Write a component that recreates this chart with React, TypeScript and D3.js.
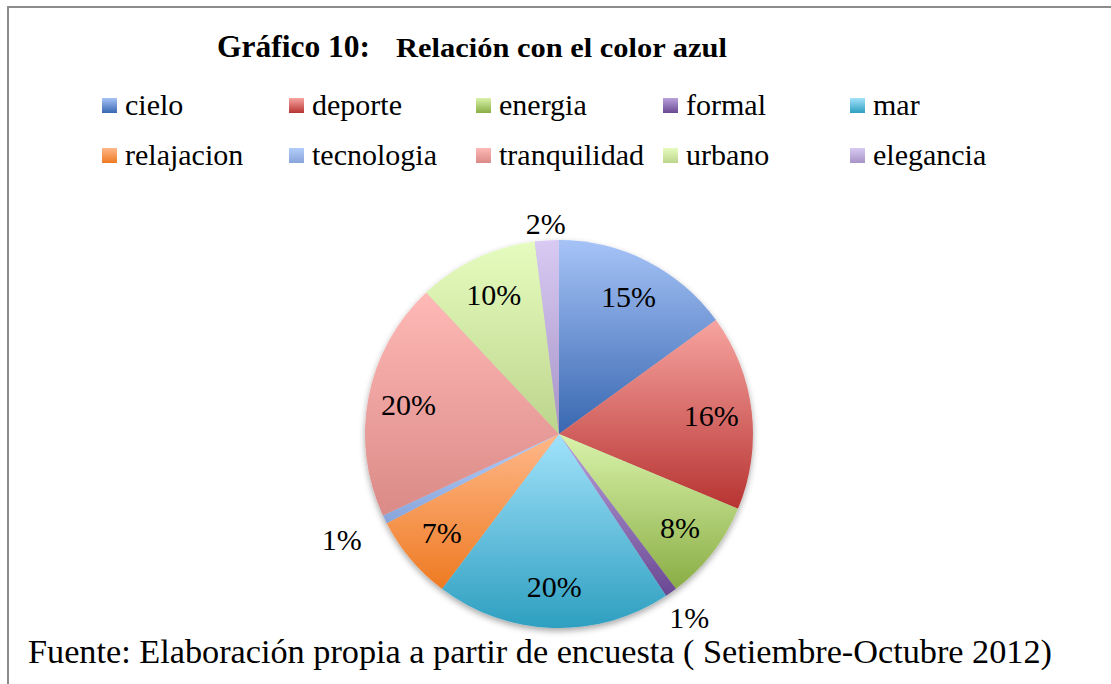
import React, { useEffect, useRef } from "react";
import * as d3 from "d3";

// ---------- Data ----------
const categories = [
  "cielo",
  "deporte",
  "energia",
  "formal",
  "mar",
  "relajacion",
  "tecnologia",
  "tranquilidad",
  "urbano",
  "elegancia",
];
// percent share
const values = [15.0, 16.3, 8.4, 1.0, 19.6, 7.1, 0.7, 19.9, 10.0, 2.0];

// gradient top / bottom per slice (Office style fills)
const colorsTop = [
  "#a6c3f7",
  "#f7a4a0",
  "#d9f3ab",
  "#b9a2dc",
  "#a2e2fb",
  "#ffb889",
  "#b3cdfa",
  "#ffb9b6",
  "#e6fcbf",
  "#d8caf3",
];
const colorsBottom = [
  "#3867b0",
  "#b73432",
  "#8aad44",
  "#6a4892",
  "#2e9fc0",
  "#ee7a22",
  "#88a5da",
  "#da8a87",
  "#bcd58c",
  "#a793c6",
];

const title1 = "Gráfico 10:";
const title2 = "Relación con el color azul";
const footer = "Fuente: Elaboración propia a partir de encuesta ( Setiembre-Octubre 2012)";

const W = 1111;
const H = 684;
const FONT = "'Liberation Serif', 'Times New Roman', serif";

interface Slice {
  name: string;
  value: number;
  i: number;
}

const App: React.FC = () => {
  const svgRef = useRef<SVGSVGElement | null>(null);

  useEffect(() => {
    const svg = d3.select(svgRef.current);
    svg.selectAll("*").remove();

    const defs = svg.append("defs");
    categories.forEach((_, i) => {
      const g = defs
        .append("linearGradient")
        .attr("id", `grad${i}`)
        .attr("x1", 0)
        .attr("y1", 0)
        .attr("x2", 0)
        .attr("y2", 1);
      g.append("stop").attr("offset", "0%").attr("stop-color", colorsTop[i]);
      g.append("stop").attr("offset", "100%").attr("stop-color", colorsBottom[i]);
    });

    const shadow = defs
      .append("filter")
      .attr("id", "pieShadow")
      .attr("x", "-10%")
      .attr("y", "-10%")
      .attr("width", "120%")
      .attr("height", "120%");
    shadow
      .append("feDropShadow")
      .attr("dx", 0)
      .attr("dy", 3)
      .attr("stdDeviation", 3)
      .attr("flood-color", "#000")
      .attr("flood-opacity", 0.35);

    // background + frame
    svg.append("rect").attr("width", W).attr("height", H).attr("fill", "#fff");
    svg
      .append("path")
      .attr("d", `M8,${H} L8,7 L${W},7`)
      .attr("fill", "none")
      .attr("stroke", "#8c8c8c")
      .attr("stroke-width", 2);

    // ---------- Title ----------
    svg
      .append("text")
      .attr("x", 217)
      .attr("y", 57)
      .attr("font-family", FONT)
      .attr("font-weight", "bold")
      .attr("font-size", 32)
      .attr("textLength", 153)
      .attr("lengthAdjust", "spacingAndGlyphs")
      .text(title1);
    svg
      .append("text")
      .attr("x", 396)
      .attr("y", 57)
      .attr("font-family", FONT)
      .attr("font-weight", "bold")
      .attr("font-size", 28)
      .attr("textLength", 331)
      .attr("lengthAdjust", "spacingAndGlyphs")
      .text(title2);

    // ---------- Legend ----------
    const legendX = d3
      .scalePoint<number>()
      .domain(d3.range(5))
      .range([102, 850]);
    const legendY = d3.scalePoint<number>().domain([0, 1]).range([115, 165]);

    const legend = svg
      .append("g")
      .selectAll("g")
      .data(categories)
      .enter()
      .append("g")
      .attr(
        "transform",
        (_, i) => `translate(${legendX(i % 5)},${legendY(Math.floor(i / 5))})`
      );
    legend
      .append("rect")
      .attr("x", 0)
      .attr("y", -17)
      .attr("width", 15)
      .attr("height", 15)
      .attr("fill", (_, i) => `url(#grad${i})`);
    legend
      .append("text")
      .attr("x", 23)
      .attr("y", 0)
      .attr("font-family", FONT)
      .attr("font-size", 30)
      .attr("fill", "#000")
      .text((d) => d);

    // ---------- Pie ----------
    const cx = 559;
    const cy = 434;
    const R = 194;
    const total = d3.sum(values);

    const data: Slice[] = categories.map((name, i) => ({
      name,
      value: values[i],
      i,
    }));

    const pie = d3
      .pie<Slice>()
      .sort(null)
      .value((d) => d.value);
    const arcs = pie(data);

    const arc = d3.arc<d3.PieArcDatum<Slice>>().innerRadius(0).outerRadius(R);
    const labelArc = d3
      .arc<d3.PieArcDatum<Slice>>()
      .innerRadius(R * 0.79)
      .outerRadius(R * 0.79);

    const g = svg.append("g").attr("transform", `translate(${cx},${cy})`);

    g.append("g")
      .attr("filter", "url(#pieShadow)")
      .selectAll("path")
      .data(arcs)
      .enter()
      .append("path")
      .attr("d", arc)
      .attr("fill", (d) => `url(#grad${d.data.i})`);

    const pct = (v: number) => `${Math.round((v / total) * 100)}%`;
    const fs = 30;

    arcs.forEach((d) => {
      const share = d.data.value / total;
      let x: number;
      let y: number;
      if (share >= 0.03) {
        [x, y] = labelArc.centroid(d);
      } else {
        // outside end: push the label box beyond the rim
        const a = (d.startAngle + d.endAngle) / 2;
        const sx = Math.sin(a);
        const sy = -Math.cos(a);
        const hw = 20;
        const hh = 11;
        const dist = Math.min(
          Math.abs(sx) > 1e-6 ? hw / Math.abs(sx) : Infinity,
          Math.abs(sy) > 1e-6 ? hh / Math.abs(sy) : Infinity
        );
        const r = R + 4 + 24 * Math.abs(sx) + dist;
        x = sx * r;
        y = sy * r;
      }
      g.append("text")
        .attr("x", x)
        .attr("y", y)
        .attr("dy", "0.33em")
        .attr("text-anchor", "middle")
        .attr("font-family", FONT)
        .attr("font-size", fs)
        .attr("fill", "#000")
        .text(pct(d.data.value));
    });

    // ---------- Footer ----------
    svg
      .append("text")
      .attr("x", 28)
      .attr("y", 663)
      .attr("font-family", FONT)
      .attr("font-size", 33)
      .attr("textLength", 1024)
      .attr("lengthAdjust", "spacingAndGlyphs")
      .text(footer);
  }, []);

  return (
    <svg
      ref={svgRef}
      width={W}
      height={H}
      style={{ position: "absolute", left: 0, top: 0 }}
    />
  );
};

export default App;
